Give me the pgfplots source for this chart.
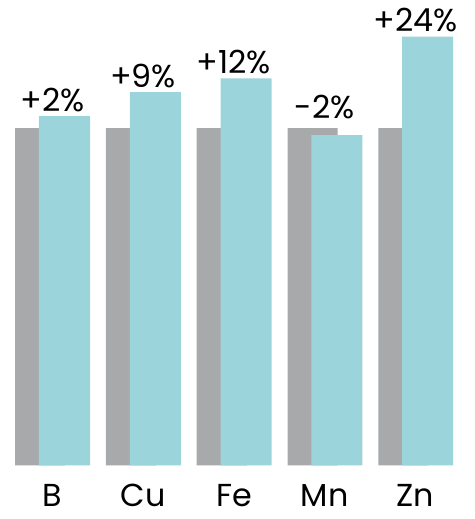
\documentclass[border=0pt]{standalone}
\usepackage{pgfplots}
\pgfplotsset{compat=1.18}
\usepackage{fontspec}
\setmainfont{Poppins}
\definecolor{basegray}{RGB}{168,169,171}
\definecolor{teal}{RGB}{155,212,219}
\begin{document}
\begin{tikzpicture}
\begin{axis}[
  scale only axis,
  width=478pt, height=469pt,
  xmin=-0.5765, xmax=4.6475,
  ymin=0, ymax=137.94,
  clip=false,
  axis line style={draw=none},
  tick style={draw=none},
  ytick=\empty,
  xtick={0,1,2,3,4},
  xticklabels={B,Cu,Fe,Mn,Zn},
  xticklabel style={anchor=base, inner sep=0pt, yshift=-41pt, font=\fontsize{32}{34}\selectfont},
]
% reference level (100) and new level, in percent
\addplot[ybar, fill=basegray, draw=none, bar width=0.552, bar shift=-0.134] coordinates {
  (0,100) (1,100) (2,100) (3,100) (4,100)
};
\addplot[ybar, fill=teal, draw=none, bar width=0.562, bar shift=0.134] coordinates {
  (0,103.5) (1,110.6) (2,114.7) (3,97.9) (4,127.1)
};
% change labels
\addplot[only marks, mark=none, nodes near coords, point meta=explicit symbolic,
  every node near coord/.style={anchor=base, inner sep=0pt, yshift=5pt, text=black, font=\fontsize{32}{34}\selectfont}]
  table[meta=lab] {
  x y lab
  0 103.5 +2\%
  1 110.6 +9\%
  2 114.7 +12\%
  3 101.2 -2\%
  4 127.1 +24\%
};
\end{axis}
\pgfresetboundingbox
\path (0,-54pt) rectangle (478pt,469pt);
\end{tikzpicture}
\end{document}
